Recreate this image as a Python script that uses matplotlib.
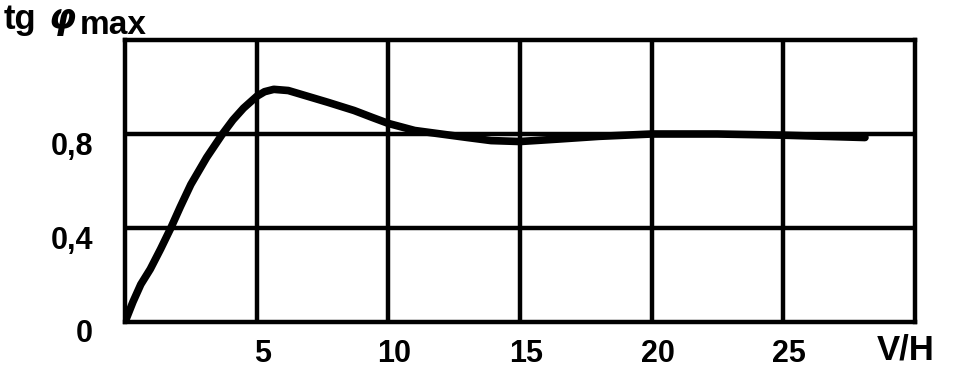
import matplotlib
matplotlib.use("Agg")
import matplotlib.pyplot as plt
import matplotlib.transforms as mtransforms

# Data
x_vals = [0, 0.3, 0.6, 0.96, 1.35, 1.74, 2.1, 2.5, 3.1, 3.7, 4.1, 4.5, 5.0, 5.3,
          5.65, 6.2, 6.8, 7.7, 8.7, 9.4, 10.0, 11.0, 12.0, 13.0, 13.9, 15.0,
          16.4, 18.0, 20.0, 22.5, 25.0, 28.1]
y_vals = [0, 0.085, 0.16, 0.225, 0.31, 0.40, 0.49, 0.585, 0.70, 0.80, 0.86, 0.91,
          0.96, 0.98, 0.99, 0.985, 0.965, 0.935, 0.90, 0.87, 0.845, 0.815, 0.80,
          0.785, 0.772, 0.768, 0.778, 0.79, 0.80, 0.80, 0.795, 0.785]

x_ticks = [5, 10, 15, 20, 25]
x_tick_labels = ["5", "10", "15", "20", "25"]
y_ticks = [0, 0.4, 0.8]
y_tick_labels = ["0", "0,4", "0,8"]

W, H = 955, 372
fig = plt.figure(figsize=(W / 100, H / 100), dpi=100)
fig.patch.set_facecolor("white")

left, right, bottom, top = 125, 915, 322, 40
ax = fig.add_axes([left / W, 1 - bottom / H, (right - left) / W, (bottom - top) / H])

ax.set_xlim(0, 30)
ax.set_ylim(0, 1.2)

lw_grid = 3.2
for s in ax.spines.values():
    s.set_linewidth(lw_grid)
    s.set_color("black")

for xv in x_ticks:
    ax.axvline(xv, color="black", lw=lw_grid, zorder=1)
for yv in y_ticks[1:]:
    ax.axhline(yv, color="black", lw=lw_grid, zorder=1)

ax.plot(x_vals, y_vals, color="black", lw=5.5, solid_capstyle="round",
        solid_joinstyle="round", zorder=3)

font = dict(family=["Liberation Sans", "DejaVu Sans"], weight="bold", size=22)

ax.set_xticks(x_ticks)
ax.set_xticklabels(x_tick_labels, **font)
ax.set_yticks(y_ticks)
ax.set_yticklabels(y_tick_labels, **font)
ax.tick_params(axis="both", length=0)
ax.tick_params(axis="x", pad=12)
ax.tick_params(axis="y", pad=23)

# small offsets as in the scan
dx = mtransforms.ScaledTranslation(6 / 100, 0, fig.dpi_scale_trans)
for lbl in ax.get_xticklabels():
    lbl.set_transform(lbl.get_transform() + dx)
dy = mtransforms.ScaledTranslation(0, -9 / 100, fig.dpi_scale_trans)
for lbl in ax.get_yticklabels():
    lbl.set_transform(lbl.get_transform() + dy)

def fx(px):
    return px / W

def fy(py):
    return 1 - py / H

fig.text(fx(4), fy(19), "tg", ha="left", va="center",
         family=["Liberation Sans", "DejaVu Sans"], weight="bold", size=25)
fig.text(fx(48), fy(19), "\u03c6", ha="left", va="center",
         family=["DejaVu Sans"], weight="bold", size=25, style="italic")
fig.text(fx(80), fy(26), "max", ha="left", va="center",
         family=["Liberation Sans", "DejaVu Sans"], weight="bold", size=24)

fig.text(fx(877), fy(350), "V/H", ha="left", va="center",
         family=["Liberation Sans", "DejaVu Sans"], weight="bold", size=25)

fig.savefig("out.png", dpi=100, facecolor="white")
